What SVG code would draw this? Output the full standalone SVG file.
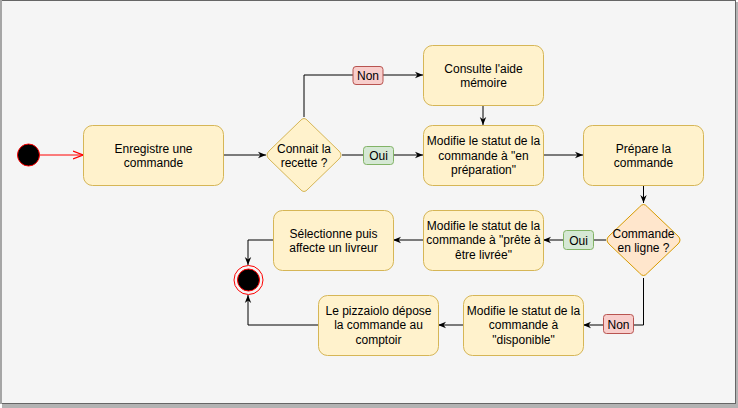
<svg xmlns="http://www.w3.org/2000/svg" width="738" height="408" viewBox="0 0 738 408">
<style>
.box{fill:#fff2cc;stroke:#d6b656;stroke-width:1}
.t{font-family:"Liberation Sans",Arial,sans-serif;font-size:12px;fill:#000;text-anchor:middle}
.c{fill:none;stroke:#000;stroke-width:1}
.non{fill:#f8cecc;stroke:#b85450}
.oui{fill:#d5e8d4;stroke:#82b366}
</style>
<defs>
<marker id="a" viewBox="0 0 10 10" refX="10" refY="5" markerWidth="8" markerHeight="8" markerUnits="userSpaceOnUse" orient="auto">
<path d="M0,1 L10,5 L0,9 L3,5 z" fill="#000"/>
</marker>
<marker id="o" viewBox="0 0 10 10" refX="10" refY="5" markerWidth="10" markerHeight="10" markerUnits="userSpaceOnUse" orient="auto">
<path d="M0,1 L10,5 L0,9" fill="none" stroke="#ff0000" stroke-width="1.2"/>
</marker>
</defs>
<rect x="2" y="2" width="736" height="406" fill="#b3b3b3"/>
<rect x="0.5" y="0.5" width="735" height="403" fill="#f5f5f5" stroke="#666" stroke-width="1"/>
<rect x="0" y="0" width="2" height="404" fill="#a6a6a6"/>

<g id="connectors">
<path class="c" d="M40,155 L83,155" stroke="#ff0000" marker-end="url(#o)" style="stroke:#ff0000"/>
<path class="c" d="M223,155 L266,155" marker-end="url(#a)"/>
<path class="c" d="M304,117 L304,75 L423,75" marker-end="url(#a)"/>
<path class="c" d="M342,155 L423,155" marker-end="url(#a)"/>
<path class="c" d="M483,105 L483,125" marker-end="url(#a)"/>
<path class="c" d="M543,155 L583,155" marker-end="url(#a)"/>
<path class="c" d="M643.5,185 L643.5,203" marker-end="url(#a)"/>
<path class="c" d="M606,240 L543,240" marker-end="url(#a)"/>
<path class="c" d="M423,240 L393,240" marker-end="url(#a)"/>
<path class="c" d="M273,240 L248,240 L248,265" marker-end="url(#a)"/>
<path class="c" d="M643.5,278 L643.5,325 L583,325" marker-end="url(#a)"/>
<path class="c" d="M463,325 L438,325" marker-end="url(#a)"/>
<path class="c" d="M318,325 L248,325 L248,295" marker-end="url(#a)"/>
<g id="label-non-1"><rect class="non" x="353" y="66.5" width="30" height="18" rx="3"/><text class="t" x="368" y="80">Non</text></g>
<g id="label-oui-1"><rect class="oui" x="363.5" y="146.5" width="30" height="18" rx="3"/><text class="t" x="378.5" y="160">Oui</text></g>
<g id="label-oui-2"><rect class="oui" x="563.5" y="230.5" width="30" height="19" rx="3"/><text class="t" x="578.5" y="244.5">Oui</text></g>
<g id="label-non-2"><rect class="non" x="603.5" y="314.5" width="30" height="19" rx="3"/><text class="t" x="618.5" y="328.5">Non</text></g>
</g>

<g id="start"><circle cx="28.5" cy="155" r="11" fill="#000" stroke="#ff0000" stroke-width="1"/></g>

<g id="enregistre"><rect class="box" x="83.5" y="125.5" width="140" height="60" rx="9"/>
<text class="t" x="153.5" y="153">Enregistre une</text><text class="t" x="153.5" y="167">commande</text></g>

<g id="connait"><path d="M300,121 Q304,116 308,121 L339,151 Q343,155 339,159 L308,189 Q304,194 300,189 L269,159 Q265,155 269,151 Z" fill="#fff2cc" stroke="#d6b656"/>
<text class="t" x="304" y="153">Connait la</text><text class="t" x="304" y="167">recette ?</text></g>

<g id="consulte"><rect class="box" x="423.5" y="45.5" width="120" height="60" rx="9"/>
<text class="t" x="483.5" y="73">Consulte l'aide</text><text class="t" x="483.5" y="87">mémoire</text></g>

<g id="modifie-prep"><rect class="box" x="423.5" y="125.5" width="120" height="60" rx="9"/>
<text class="t" x="483.5" y="145">Modifie le statut de la</text><text class="t" x="483.5" y="159.5">commande à "en</text><text class="t" x="483.5" y="174">préparation"</text></g>

<g id="prepare"><rect class="box" x="583.5" y="125.5" width="120" height="60" rx="9"/>
<text class="t" x="643.5" y="153">Prépare la</text><text class="t" x="643.5" y="167">commande</text></g>

<g id="commande-en-ligne"><path d="M639.5,207 Q643.5,202 647.5,207 L678,236 Q682,240 678,244 L647.5,273 Q643.5,278 639.5,273 L609,244 Q605,240 609,236 Z" fill="#ffe6cc" stroke="#d79b00"/>
<text class="t" x="643.5" y="238">Commande</text><text class="t" x="643.5" y="251.5">en ligne ?</text></g>

<g id="modifie-prete"><rect class="box" x="423.5" y="210.5" width="120" height="60" rx="9"/>
<text class="t" x="483.5" y="229.5">Modifie le statut de la</text><text class="t" x="483.5" y="244">commande à "prête à</text><text class="t" x="483.5" y="258.5">être livrée"</text></g>

<g id="selectionne"><rect class="box" x="273.5" y="210.5" width="120" height="60" rx="9"/>
<text class="t" x="333.5" y="238">Sélectionne puis</text><text class="t" x="333.5" y="252">affecte un livreur</text></g>

<g id="end"><circle cx="248.5" cy="280" r="14.5" fill="none" stroke="#ff0000" stroke-width="1"/><circle cx="248.5" cy="280" r="11" fill="#000" stroke="#ff0000" stroke-width="1"/></g>

<g id="modifie-dispo"><rect class="box" x="463.5" y="295.5" width="120" height="60" rx="9"/>
<text class="t" x="523.5" y="314.5">Modifie le statut de la</text><text class="t" x="523.5" y="329">commande à</text><text class="t" x="523.5" y="343.5">"disponible"</text></g>

<g id="pizzaiolo"><rect class="box" x="318.5" y="295.5" width="120" height="60" rx="9"/>
<text class="t" x="378.5" y="314.5">Le pizzaiolo dépose</text><text class="t" x="378.5" y="329">la commande au</text><text class="t" x="378.5" y="343.5">comptoir</text></g>
</svg>
